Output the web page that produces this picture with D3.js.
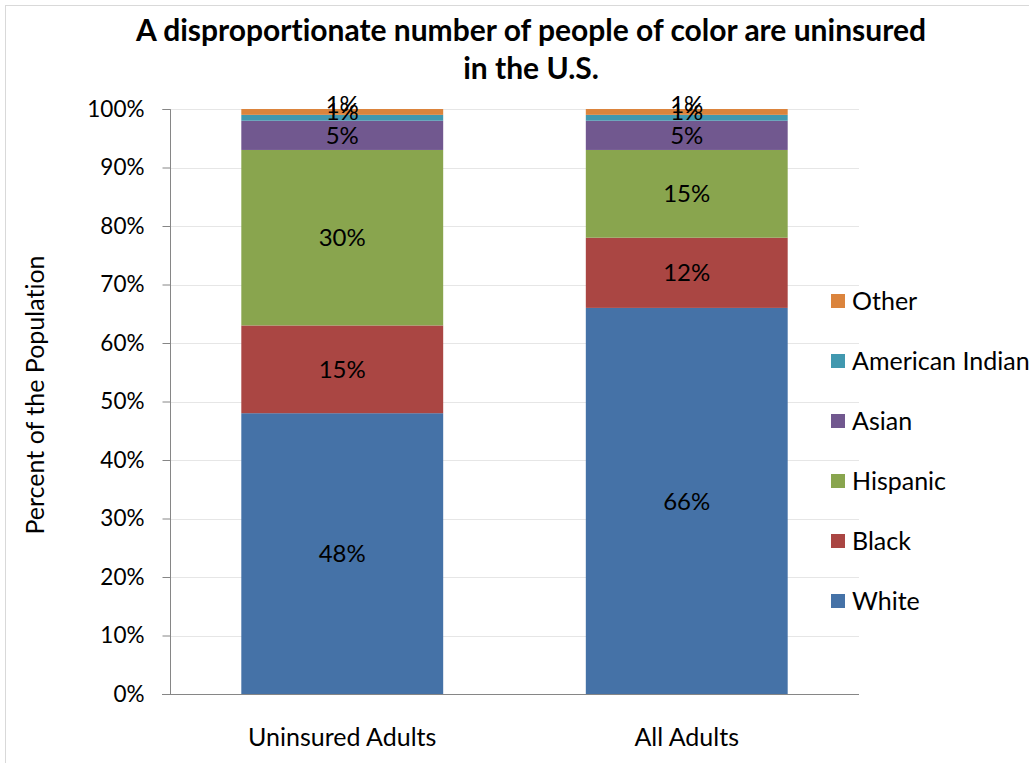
<!DOCTYPE html>
<html>
<head>
<meta charset="utf-8">
<script src="https://cdn.jsdelivr.net/npm/d3@7"></script>
<style>
  html, body { margin: 0; padding: 0; background: #fff; }
  svg { display: block; font-family: Lato, "Open Sans", sans-serif; font-variant-ligatures: none; }
</style>
</head>
<body>
<svg id="chart" width="1029" height="763"></svg>
<script>
// Population groups, bottom of the stack first
const groups = ["White", "Black", "Hispanic", "Asian", "American Indian", "Other"];
const categories = ["Uninsured Adults", "All Adults"];
// Share of each population (percent), one array per category
const uninsuredShares = [48, 15, 30, 5, 1, 1];
const allAdultShares = [66, 12, 15, 5, 1, 1];
const yTicks = [0, 10, 20, 30, 40, 50, 60, 70, 80, 90, 100];
const colors = ["#4572A7", "#AA4643", "#89A54E", "#71588F", "#4198AF", "#DB843D"];

const titleLines = ["A disproportionate number of people of color are uninsured", "in the U.S."];
const yTitle = "Percent of the Population";

const svg = d3.select("#chart");

// outer frame
svg.append("rect")
  .attr("x", 5.5).attr("y", 5.5).attr("width", 1100).attr("height", 900)
  .attr("fill", "#fff").attr("stroke", "#d9d9d9").attr("stroke-width", 1);

const plotLeft = 170, plotRight = 859, plotTop = 109, plotBottom = 694;

const x = d3.scaleBand().domain(categories).range([plotLeft, plotRight])
  .paddingInner(0.414).paddingOuter(0.207);
const y = d3.scaleLinear().domain([0, 100]).range([plotBottom, plotTop]);

// build stacked rows
const rows = categories.map((c, i) => {
  const vals = i === 0 ? uninsuredShares : allAdultShares;
  const r = { category: c };
  groups.forEach((g, j) => r[g] = vals[j]);
  return r;
});
const stacked = d3.stack().keys(groups)(rows);

// gridlines
svg.append("g").selectAll("line").data(yTicks.filter(t => t > 0)).join("line")
  .attr("x1", plotLeft).attr("x2", plotRight)
  .attr("y1", d => Math.round(y(d)) + 0.5).attr("y2", d => Math.round(y(d)) + 0.5)
  .attr("stroke", "#e6e6e6").attr("stroke-width", 1);

// bars
const layer = svg.append("g").selectAll("g").data(stacked).join("g")
  .attr("fill", (d, i) => colors[i]);
layer.selectAll("rect").data(d => d).join("rect")
  .attr("x", d => x(d.data.category))
  .attr("width", x.bandwidth())
  .attr("y", d => y(d[1]))
  .attr("height", d => y(d[0]) - y(d[1]));

// small segments at the top have their labels nudged upward to stay readable
const labelNudge = { "American Indian": -6, "Other": -8 };
const labels = svg.append("g").attr("font-size", 24).attr("fill", "#000").attr("text-anchor", "middle");
stacked.forEach(s => {
  s.forEach(d => {
    const v = d[1] - d[0];
    labels.append("text")
      .attr("x", x(d.data.category) + x.bandwidth() / 2)
      .attr("y", (y(d[0]) + y(d[1])) / 2 + (labelNudge[s.key] || 0))
      .attr("dy", "0.36em")
      .text(v + "%");
  });
});

// y axis
const yAxis = svg.append("g")
  .attr("transform", `translate(${plotLeft + 0.5},0)`)
  .call(d3.axisLeft(y).tickValues(yTicks).tickFormat(d => d + "%").tickSize(8).tickPadding(18));
yAxis.select(".domain").attr("stroke", "#868686").attr("d", `M-8,${plotTop + 0.5}H0V${plotBottom + 0.5}H-8`);
yAxis.selectAll(".tick line").attr("stroke", "#868686");
yAxis.selectAll(".tick text").attr("font-size", 22.5).attr("fill", "#000").attr("font-family", "Lato, sans-serif");

// x axis line
svg.append("line")
  .attr("x1", plotLeft - 8).attr("x2", plotRight)
  .attr("y1", plotBottom + 0.5).attr("y2", plotBottom + 0.5)
  .attr("stroke", "#868686");

// category labels
svg.append("g").selectAll("text").data(categories).join("text")
  .attr("x", d => x(d) + x.bandwidth() / 2)
  .attr("y", 746)
  .attr("text-anchor", "middle").attr("font-size", 25).attr("fill", "#000")
  .text(d => d);

// y title
svg.append("text")
  .attr("transform", "translate(44,395) rotate(-90)")
  .attr("text-anchor", "middle").attr("font-size", 25).attr("fill", "#000")
  .text(yTitle);

// title
svg.append("g").selectAll("text").data(titleLines).join("text")
  .attr("x", 531).attr("y", (d, i) => 41 + i * 38)
  .attr("text-anchor", "middle").attr("font-size", 30).attr("font-weight", "bold").attr("fill", "#000")
  .text(d => d);

// legend, top entry is the last group
const legendOrder = groups.slice().reverse();
const legend = svg.append("g").selectAll("g").data(legendOrder).join("g")
  .attr("transform", (d, i) => `translate(831,${301 + i * 60})`);
legend.append("rect")
  .attr("x", 0).attr("y", -7).attr("width", 14).attr("height", 14)
  .attr("fill", d => colors[groups.indexOf(d)]);
legend.append("text")
  .attr("x", 21).attr("dy", "0.36em")
  .attr("font-size", 25).attr("fill", "#000")
  .text(d => d);
</script>
</body>
</html>
